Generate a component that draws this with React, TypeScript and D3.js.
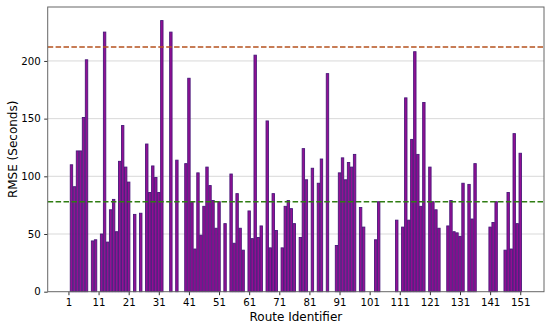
import * as d3 from "d3";
import { useEffect, useRef } from "react";

// route ids that have a value, and their RMSE in seconds
const routes = [
  2, 3, 4, 5, 6, 7, 9, 10, 12, 13, 14, 15, 16, 17, 18, 19, 20, 21, 23, 25,
  27, 28, 29, 30, 31, 32, 35, 37, 40, 41, 42, 43, 44, 45, 46, 47, 48, 49, 50, 51,
  53, 55, 56, 57, 58, 59, 61, 62, 63, 64, 65, 67, 68, 69, 70, 72, 73, 74, 75, 76,
  78, 79, 80, 82, 84, 85, 87, 90, 91, 92, 93, 94, 95, 96, 98, 99, 103, 104,
  110, 112, 113, 114, 115, 116, 117, 118, 119, 121, 122, 123, 124,
  127, 128, 129, 130, 131, 132, 134, 135, 136, 141, 142, 143,
  146, 147, 148, 149, 150, 151,
];
const rmse = [
  110, 91, 122, 122, 151, 201, 44, 45, 50, 225, 43, 71, 80, 52, 113, 144, 108, 95, 67, 68,
  128, 86, 109, 99, 86, 235, 225, 114, 111, 185, 78, 37, 103, 49, 74, 108, 92, 79, 55, 78,
  59, 102, 42, 85, 55, 36, 70, 46, 205, 47, 57, 148, 38, 85, 53, 38, 74, 79, 72, 59,
  47, 124, 97, 107, 94, 115, 189, 40, 103, 116, 97, 112, 108, 119, 73, 56, 45, 78,
  62, 56, 168, 62, 132, 208, 119, 74, 164, 108, 78, 71, 55,
  57, 79, 52, 51, 48, 94, 93, 63, 111, 56, 60, 78,
  36, 86, 37, 137, 59, 120,
];
const xTicks = [1, 11, 21, 31, 41, 51, 61, 71, 81, 91, 101, 111, 121, 131, 141, 151];
const yTicks = [0, 50, 100, 150, 200];
const upperLine = 212;
const lowerLine = 78;

const W = 550;
const H = 327;
const margin = { top: 7, right: 6, bottom: 35.3, left: 47.7 };

export default function App() {
  const ref = useRef<SVGSVGElement>(null);

  useEffect(() => {
    const svg = d3.select(ref.current);
    svg.selectAll("*").remove();

    const iw = W - margin.left - margin.right;
    const ih = H - margin.top - margin.bottom;
    const barW = 0.8;
    const lo = d3.min(routes)! - barW / 2;
    const hi = d3.max(routes)! + barW / 2;
    const pad = (hi - lo) * 0.05;

    const x = d3.scaleLinear().domain([lo - pad, hi + pad]).range([0, iw]);
    const y = d3.scaleLinear().domain([0, d3.max(rmse)! * 1.05]).range([ih, 0]);

    const g = svg.append("g").attr("transform", `translate(${margin.left},${margin.top})`);

    // grid
    g.selectAll(".grid")
      .data(yTicks.slice(1))
      .enter()
      .append("line")
      .attr("x1", 0)
      .attr("x2", iw)
      .attr("y1", (d) => y(d))
      .attr("y2", (d) => y(d))
      .attr("stroke", "#cfcfcf")
      .attr("stroke-width", 0.8);

    // bars
    const data = routes.map((r, i) => ({ r, v: rmse[i] }));
    g.selectAll(".bar")
      .data(data)
      .enter()
      .append("rect")
      .attr("x", (d) => x(d.r - barW / 2))
      .attr("y", (d) => y(d.v))
      .attr("width", x(barW) - x(0))
      .attr("height", (d) => ih - y(d.v))
      .attr("fill", "#940f94")
      .attr("stroke", "#48197a")
      .attr("stroke-width", 0.9);

    // threshold lines
    const hline = (v: number, color: string) =>
      g.append("line")
        .attr("x1", 0)
        .attr("x2", iw)
        .attr("y1", y(v))
        .attr("y2", y(v))
        .attr("stroke", color)
        .attr("stroke-width", 1.5)
        .attr("stroke-dasharray", "5.5,2.4");
    hline(upperLine, "#b5521e");
    hline(lowerLine, "#2f7d12");

    // axes
    const xAxis = d3.axisBottom(x).tickValues(xTicks).tickSize(3.5).tickPadding(3.5);
    const gx = g.append("g").attr("transform", `translate(0,${ih})`).call(xAxis);
    const yAxis = d3.axisLeft(y).tickValues(yTicks).tickSize(3.5).tickPadding(3.5);
    const gy = g.append("g").call(yAxis);
    [gx, gy].forEach((a) => {
      a.select(".domain").remove();
      a.selectAll("line").attr("stroke", "#333");
      a.selectAll("text")
        .attr("fill", "#000")
        .style("font-family", "DejaVu Sans")
        .style("font-size", "10.2px");
    });

    // frame
    g.append("rect")
      .attr("width", iw)
      .attr("height", ih)
      .attr("fill", "none")
      .attr("stroke", "#666")
      .attr("stroke-width", 1);

    svg.append("text")
      .attr("x", margin.left + iw / 2)
      .attr("y", 320.5)
      .attr("text-anchor", "middle")
      .style("font-family", "DejaVu Sans")
      .style("font-size", "12px")
      .attr("fill", "#000")
      .text("Route Identifier");

    svg.append("text")
      .attr("transform", `translate(16.5,${margin.top + ih / 2}) rotate(-90)`)
      .attr("text-anchor", "middle")
      .style("font-family", "DejaVu Sans")
      .style("font-size", "12px")
      .attr("fill", "#000")
      .text("RMSE (Seconds)");
  }, []);

  return (
    <svg
      ref={ref}
      width={W}
      height={H}
      style={{ position: "absolute", left: 0, top: 0, background: "#fff" }}
    ></svg>
  );
}
